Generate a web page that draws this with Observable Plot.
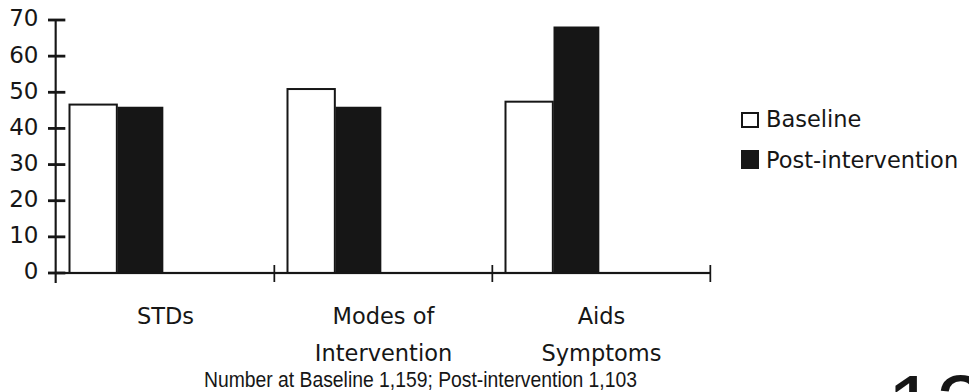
<!DOCTYPE html>
<html>
<head>
<meta charset="utf-8">
<script src="https://cdn.jsdelivr.net/npm/d3@7"></script>
<script src="https://cdn.jsdelivr.net/npm/@observablehq/plot@0.6"></script>
<style>
  html, body { margin: 0; padding: 0; background: white; }
  #wrap { position: relative; width: 969px; height: 392px; overflow: hidden; background: white; }
  #chart svg { display: block; }
  .lg-text { position: absolute; font-family: "DejaVu Sans", sans-serif; font-size: 22.5px; line-height: 1; color: #161616; white-space: nowrap; }
  .sw { position: absolute; box-sizing: border-box; }
  #caption { position: absolute; left: 0; width: 840px; text-align: center; top: 369.4px;
    font-family: "Liberation Sans Narrow", "Arial Narrow", "Liberation Sans", sans-serif;
    font-size: 22px; line-height: 1; color: #161616; white-space: nowrap; }
  #caption span { display: inline-block; transform-origin: 50% 50%; }
  #pagenum { position: absolute; left: 887px; top: 362px; font-family: "Liberation Sans", Arial, sans-serif;
    font-size: 88px; line-height: 1; color: #161616; }
</style>
</head>
<body>
<div id="wrap">
  <div id="chart"></div>
  <div id="legend"></div>
  <div id="caption"><span></span></div>
  <div id="pagenum"></div>
</div>
<script>
// ---- data ----
const categories = ["STDs", "Modes of Intervention", "Aids Symptoms"];
const categoryLabels = ["STDs", "Modes of\nIntervention", "Aids\nSymptoms"];
const series = ["Baseline", "Post-intervention"];
const baselineValues = [46.6, 50.9, 47.4];
const postValues = [46.0, 46.0, 68.2];
const yTicks = [0, 10, 20, 30, 40, 50, 60, 70];
const captionText = "Number at Baseline 1,159; Post-intervention 1,103";
const pageNumber = "12";

// ---- build table ----
const rows = [];
categories.forEach((c, i) => {
  rows.push({category: c, series: series[0], value: baselineValues[i]});
  rows.push({category: c, series: series[1], value: postValues[i]});
});
const labelOf = new Map(categories.map((c, i) => [c, categoryLabels[i]]));

// ---- layout ----
const ink = "#161616";
const width = 969, height = 372;
const mL = 55, mR = 258, mT = 20, mB = 99;
const plotW = width - mL - mR;
const W = plotW / categories.length; // band width

const chart = Plot.plot({
  width, height,
  marginLeft: mL, marginRight: mR, marginTop: mT, marginBottom: mB,
  x: {domain: categories, padding: 0, axis: null, label: null},
  y: {domain: [0, 70], axis: null, label: null},
  style: {fontFamily: "DejaVu Sans", color: ink, background: "white"},
  marks: [
    Plot.barY(rows.filter(d => d.series === series[0]), {
      x: "category", y: "value", fill: "white", stroke: ink, strokeWidth: 2,
      insetLeft: 13.5, insetRight: W - 61.5
    }),
    Plot.barY(rows.filter(d => d.series === series[1]), {
      x: "category", y: "value", fill: ink,
      insetLeft: 61.5, insetRight: W - 108
    }),
    // x axis baseline
    Plot.barY(categories, {x: d => d, y1: 0, y2: 0, fill: ink,
      insetLeft: 0, insetRight: 0, insetTop: -1.1, insetBottom: -1.1}),
    // y ticks crossing the axis
    Plot.barY(yTicks, {x: () => categories[0], y1: d => d, y2: d => d, fill: ink,
      insetLeft: -8, insetRight: W - 10, insetTop: -1.4, insetBottom: -1.4}),
    // y axis line
    Plot.barY([categories[0]], {x: d => d, y1: 0, y2: 70, fill: ink,
      insetLeft: -1.4, insetRight: W - 1.4, insetBottom: -10}),
    // category separator ticks (right edge of each band)
    Plot.barY(categories, {x: d => d, y1: 0, y2: 0, fill: ink,
      insetLeft: W - 1.2, insetRight: -1.2, insetTop: -8, insetBottom: -9}),
    Plot.axisY({ticks: yTicks, tickSize: 0, tickPadding: 17, fontSize: 23, dy: -1.5, label: null}),
    Plot.axisX({tickSize: 0, tickPadding: 25, fontSize: 22.5, lineHeight: 1.62, label: null,
      tickFormat: d => labelOf.get(d)})
  ]
});
document.getElementById("chart").appendChild(chart);

// ---- legend ----
const legend = document.getElementById("legend");
const legendItems = [
  {label: series[0], top: 112, h: 16, fill: "white", border: "2px solid " + ink, textTop: 107.6},
  {label: series[1], top: 150, h: 19, fill: ink, border: "none", textTop: 149.2}
];
legendItems.forEach(it => {
  const sw = document.createElement("div");
  sw.className = "sw";
  Object.assign(sw.style, {left: "741px", top: it.top + "px", width: "18px", height: it.h + "px",
    background: it.fill, border: it.border});
  legend.appendChild(sw);
  const t = document.createElement("div");
  t.className = "lg-text";
  t.textContent = it.label;
  Object.assign(t.style, {left: "766px", top: it.textTop + "px"});
  legend.appendChild(t);
});

// caption: condensed to the reference's narrow face
const capSpan = document.querySelector("#caption span");
capSpan.textContent = captionText;
const capW = capSpan.getBoundingClientRect().width;
const targetCapW = 433;
if (capW > 0) capSpan.style.transform = `scaleX(${targetCapW / capW})`;

document.getElementById("pagenum").textContent = pageNumber;
</script>
</body>
</html>
